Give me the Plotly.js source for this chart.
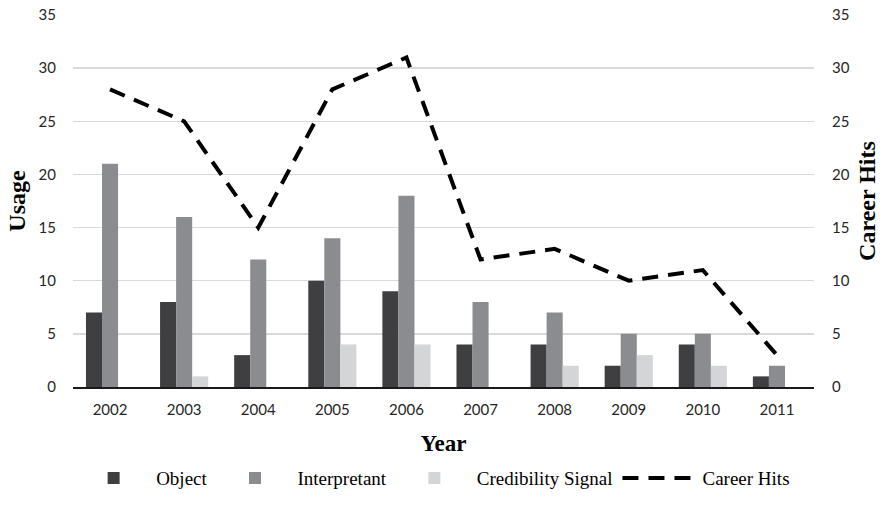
<!DOCTYPE html>
<html><head><meta charset="utf-8">
<script src="https://cdn.plot.ly/plotly-3.0.1.min.js"></script>
<style>html,body{margin:0;padding:0;background:#fff}#c{width:884px;height:515px}</style>
</head><body><div id="c"></div>
<script>
const years = ['2002','2003','2004','2005','2006','2007','2008','2009','2010','2011'];
const objectVals = [7, 8, 3, 10, 9, 4, 4, 2, 4, 1];
const interpretantVals = [21, 16, 12, 14, 18, 8, 7, 5, 5, 2];
const credibilityVals = [0, 1, 0, 4, 4, 0, 2, 3, 2, 0];
const careerHits = [28, 25, 15, 28, 31, 12, 13, 10, 11, 3];

const tickFont = {family: 'Lato, "Open Sans", sans-serif', size: 15, color: '#262626'};
const serif = '"Liberation Serif", "Times New Roman", serif';

const traces = [
  {type:'bar', name:'Object', x:years, y:objectVals, marker:{color:'#3f3f41'}},
  {type:'bar', name:'Interpretant', x:years, y:interpretantVals, marker:{color:'#8b8c90'}},
  {type:'bar', name:'Credibility Signal', x:years, y:credibilityVals, marker:{color:'#d4d5d7'}},
  {type:'scatter', mode:'lines', name:'Career Hits', x:years, y:careerHits, yaxis:'y2',
   line:{color:'#000', width:4, dash:'16px,10px'}}
];
const layout = {
  width:884, height:515,
  margin:{l:73, r:70, t:15, b:128},
  paper_bgcolor:'#fff', plot_bgcolor:'#fff',
  barmode:'group', bargap:0.35, bargroupgap:0,
  showlegend:true,
  legend:{orientation:'h', x:0.486, xanchor:'center', y:-0.245, yanchor:'middle',
          itemwidth:75,
          font:{family:serif, size:19, color:'#000'}, traceorder:'normal'},
  xaxis:{type:'category', automargin:false, tickfont:tickFont, showline:true, linecolor:'#1a1a1a', linewidth:1.5, ticks:'',
         ticklabelstandoff:8,
         title:{text:'<b>Year</b>', font:{family:serif, size:23, color:'#000'}, standoff:18}},
  yaxis:{range:[0,35], dtick:5, automargin:false, tickfont:tickFont, gridcolor:'#d9d9d9', gridwidth:1.5,
         zeroline:false, showline:false, ticks:'', ticklabelstandoff:16,
         title:{text:'<b>Usage</b>', font:{family:serif, size:24, color:'#000'}, standoff:6}},
  yaxis2:{range:[0,35], dtick:5, automargin:false, overlaying:'y', side:'right', tickfont:tickFont,
          showgrid:false, zeroline:false, showline:false, ticks:'', ticklabelstandoff:17,
          title:{text:'<b>Career Hits</b>', font:{family:serif, size:24, color:'#000'}, standoff:9}}
};
Plotly.newPlot('c', traces, layout, {displayModeBar:false, staticPlot:true});
</script></body></html>
